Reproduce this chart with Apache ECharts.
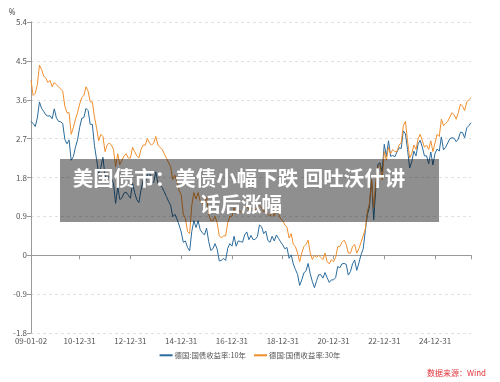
<!DOCTYPE html>
<html><head><meta charset="utf-8">
<script src="https://cdn.jsdelivr.net/npm/echarts@6/dist/echarts.min.js"></script>
<style>html,body{margin:0;padding:0;background:#fff}#c{width:500px;height:382px}</style>
</head><body><div id="c"></div>
<script>
// monthly German Bund yields, Jan 2009 – May 2026 (%)
const y10 = [
 3.10,3.05,2.98,3.18,3.55,3.40,3.33,3.25,3.22,3.23,3.16,3.39,
 3.18,3.10,3.09,3.05,2.68,2.58,2.67,2.20,2.28,2.50,2.67,2.96,
 3.17,3.19,3.40,3.35,3.03,3.03,2.54,2.22,1.89,2.03,2.27,1.83,
 1.79,1.82,1.79,1.66,1.20,1.58,1.29,1.33,1.44,1.46,1.39,1.32,
 1.67,1.45,1.29,1.22,1.51,1.73,1.67,1.86,1.95,1.67,1.69,1.93,
 1.66,1.62,1.57,1.47,1.36,1.25,1.16,0.89,0.95,0.84,0.70,0.54,
 0.30,0.33,0.18,0.10,0.55,0.80,0.64,0.80,0.59,0.52,0.47,0.63,
 0.32,0.11,0.15,0.27,0.14,-0.13,-0.12,-0.07,-0.12,0.16,0.27,0.21,
 0.44,0.21,0.33,0.32,0.30,0.47,0.54,0.36,0.46,0.36,0.37,0.43,
 0.70,0.66,0.50,0.56,0.34,0.30,0.44,0.33,0.47,0.39,0.31,0.24,
 0.15,0.18,-0.07,0.01,-0.20,-0.33,-0.44,-0.70,-0.57,-0.41,-0.36,-0.19,
 -0.43,-0.61,-0.75,-0.59,-0.45,-0.45,-0.53,-0.40,-0.52,-0.63,-0.57,-0.57,
 -0.52,-0.26,-0.29,-0.20,-0.19,-0.21,-0.46,-0.38,-0.20,-0.11,-0.35,-0.18,
 0.01,0.14,0.55,0.94,1.12,1.75,0.82,1.54,2.11,2.14,1.93,2.57,
 2.29,2.65,2.29,2.31,2.28,2.39,2.49,2.47,2.88,2.81,2.45,2.02,
 2.17,2.41,2.30,2.58,2.66,2.50,2.30,2.30,2.12,2.39,2.09,2.36,
 2.46,2.41,2.74,2.44,2.50,2.60,2.70,2.72,2.71,2.63,2.69,2.85,
 2.84,2.72,2.95,3.00,3.07
];
const y30 = [
 4.05,3.70,3.75,3.95,4.40,4.30,4.15,4.10,4.00,4.05,3.90,4.00,
 3.95,3.90,3.85,3.80,3.45,3.30,3.30,2.80,2.95,3.15,3.30,3.50,
 3.65,3.70,3.90,3.80,3.55,3.55,3.20,2.95,2.65,2.80,2.75,2.40,
 2.55,2.60,2.55,2.45,2.05,2.35,2.10,2.20,2.30,2.35,2.25,2.25,
 2.50,2.40,2.30,2.25,2.45,2.55,2.55,2.70,2.60,2.55,2.60,2.75,
 2.55,2.50,2.45,2.35,2.25,2.15,2.05,1.75,1.85,1.70,1.50,1.40,
 0.95,0.85,0.55,0.50,1.15,1.45,1.30,1.45,1.25,1.20,1.20,1.35,
 0.95,0.80,0.80,0.90,0.75,0.45,0.40,0.45,0.45,0.75,0.90,0.90,
 1.10,0.95,1.05,1.00,1.00,1.10,1.15,1.05,1.10,1.05,1.05,1.10,
 1.15,1.10,1.00,1.05,0.95,0.90,1.00,0.90,1.05,0.95,0.85,0.80,
 0.70,0.65,0.40,0.50,0.25,0.20,0.05,-0.15,0.05,0.20,0.25,0.35,
 0.05,-0.10,0.00,-0.05,0.00,-0.05,-0.10,0.05,-0.15,-0.20,-0.10,-0.15,
 -0.05,0.20,0.20,0.30,0.35,0.25,0.05,0.05,0.20,0.25,0.05,0.15,
 0.30,0.45,0.60,1.00,1.20,1.75,1.10,1.70,2.05,2.10,1.75,2.40,
 2.20,2.50,2.35,2.45,2.40,2.40,2.55,2.60,3.00,3.10,2.65,2.25,
 2.35,2.55,2.45,2.70,2.80,2.65,2.50,2.55,2.45,2.65,2.40,2.60,
 2.80,2.75,3.15,3.00,3.05,3.10,3.20,3.30,3.25,3.15,3.30,3.50,
 3.45,3.35,3.55,3.60,3.65
];
const seriesNames = ['德国:国债收益率:10年', '德国:国债收益率:30年'];
const yTicks = [-1.8, -0.9, 0, 0.9, 1.8, 2.7, 3.6, 4.5, 5.4];
const unitText = '%';
const titleLines = ['美国债市：美债小幅下跌 回吐沃什讲', '话后涨幅'];
const sourceText = '数据来源：Wind';

// month-end category dates (first one is the first trading day)
const categories = [];
const monthEnd = [31,28,31,30,31,30,31,31,30,31,30,31];
for (let i = 0; i < y10.length; i++) {
  const yr = 2009 + Math.floor(i / 12), m = i % 12;
  let d = monthEnd[m];
  if (m === 1 && yr % 4 === 0) d = 29;
  const yy = String(yr % 100).padStart(2, '0'), mm = String(m + 1).padStart(2, '0');
  categories.push(i === 0 ? '09-01-02' : yy + '-' + mm + '-' + String(d).padStart(2, '0'));
}
const isLabel = (idx, v) => idx === 0 || (v.slice(3, 5) === '12' && (parseInt(v.slice(0, 2), 10) % 2 === 0));
const labelIdx = new Set(categories.map((v, i) => isLabel(i, v) ? i : -1).filter(i => i >= 0));

const chart = echarts.init(document.getElementById('c'), null, {renderer: 'canvas'});
const font = '"Noto Sans CJK SC", "Noto Sans", sans-serif';
chart.setOption({
  animation: false,
  textStyle: {fontFamily: font},
  grid: {left: 31, right: 29, top: 22, bottom: 49},
  legend: {
    data: seriesNames, bottom: 18, left: 'center', icon: 'rect', itemWidth: 13, itemHeight: 2, itemGap: 8,
    textStyle: {fontSize: 7.4, color: '#555', fontFamily: font, padding: [0, 0, 0, -3]}
  },
  xAxis: {
    type: 'category', data: categories, boundaryGap: false,
    axisLine: {lineStyle: {color: '#999'}},
    axisTick: {length: 4, lineStyle: {color: '#999'}, interval: (i) => labelIdx.has(i) || i === categories.length - 1},
    axisLabel: {fontSize: 8, color: '#555', margin: 4, interval: (i) => labelIdx.has(i), fontFamily: font},
    splitLine: {show: false}
  },
  yAxis: {
    type: 'value', min: yTicks[0], max: yTicks[yTicks.length - 1], interval: 0.9,
    axisLine: {show: true, lineStyle: {color: '#999'}},
    axisTick: {show: true, length: 4, lineStyle: {color: '#999'}},
    axisLabel: {fontSize: 8, color: '#555', margin: 4, formatter: v => String(Math.round(v * 10) / 10)},
    splitLine: {lineStyle: {type: [3, 3], color: '#e0e0e0'}}
  },
  series: [
    {name: seriesNames[0], type: 'line', data: y10, showSymbol: false, lineStyle: {width: 1, color: '#2a6b9c'}, itemStyle: {color: '#2a6b9c'}},
    {name: seriesNames[1], type: 'line', data: y30, showSymbol: false, lineStyle: {width: 1, color: '#f08e2c'}, itemStyle: {color: '#f08e2c'}}
  ],
  graphic: [
    {type: 'text', x: 12, y: 13, z: 101, style: {text: unitText, fill: '#555', font: '8px "Noto Sans"', textAlign: 'center', textVerticalAlign: 'middle'}},
    {type: 'rect', shape: {x: 60, y: 159, width: 379, height: 63}, style: {fill: 'rgba(0,0,0,0.44)'}, z: 100},
    {type: 'text', x: 239, y: 178, z: 101, style: {text: titleLines[0], fill: '#fff', font: 'bold 20.5px "Noto Sans CJK SC"', textAlign: 'center', textVerticalAlign: 'middle'}},
    {type: 'text', x: 241, y: 204, z: 101, style: {text: titleLines[1], fill: '#fff', font: 'bold 20.5px "Noto Sans CJK SC"', textAlign: 'center', textVerticalAlign: 'middle'}},
    {type: 'text', x: 486, y: 373, z: 101, style: {text: sourceText, fill: '#e0333a', font: '8px "Noto Sans CJK SC"', textAlign: 'right', textVerticalAlign: 'middle'}}
  ]
});
</script></body></html>
